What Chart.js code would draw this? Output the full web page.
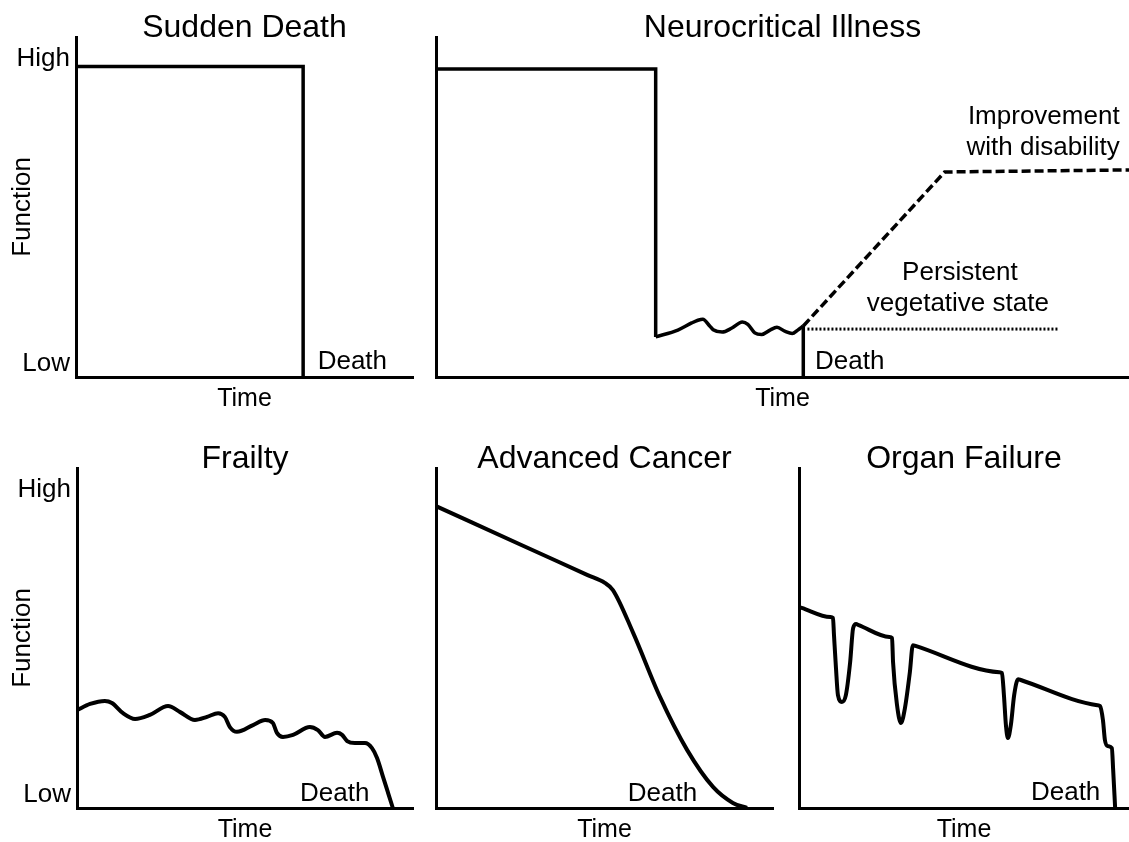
<!DOCTYPE html>
<html>
<head>
<meta charset="utf-8">
<script src="https://cdn.jsdelivr.net/npm/chart.js@4.4.1/dist/chart.umd.min.js"></script>
<style>
html,body{margin:0;padding:0;background:#fff;}
#wrap{position:relative;width:1129px;height:842px;overflow:hidden;background:#fff;}
canvas{position:absolute;}
</style>
</head>
<body>
<div id="wrap">
<canvas id="c1" width="420" height="420" style="left:0px;top:0px;width:420px;height:420px"></canvas>
<canvas id="c2" width="709" height="420" style="left:420px;top:0px;width:709px;height:420px"></canvas>
<canvas id="c3" width="420" height="422" style="left:0px;top:420px;width:420px;height:422px"></canvas>
<canvas id="c4" width="360" height="422" style="left:420px;top:420px;width:360px;height:422px"></canvas>
<canvas id="c5" width="349" height="422" style="left:780px;top:420px;width:349px;height:422px"></canvas>
</div>
<script>
// ---------- DATA (time 0-100, function 0-100) ----------
const yTickValues = [4, 93.7];
const yTickLabels = ['Low', 'High'];
const panelTitles = ['Sudden Death', 'Neurocritical Illness', 'Frailty', 'Advanced Cancer', 'Organ Failure'];
const xAxisLabel = 'Time';
const yAxisLabel = 'Function';

// Sudden Death
const suddenTime = [0, 67.4, 67.4];
const suddenFunction = [91.3, 91.3, 0];

// Neurocritical Illness
const neuroStepTime = [0, 31.7, 31.7];
const neuroStepFunction = [90.6, 90.6, 11.8];
const neuroWaveTime = [31.7, 34.9, 36.9, 37.8, 38.5, 39.5, 40.0, 41.3, 42.7, 44.2, 45.0, 46.0, 47.0, 48.2, 49.2, 50.4, 51.4, 52.2, 53.0];
const neuroWaveFunction = [11.8, 13.8, 15.9, 16.7, 17.0, 15.0, 13.9, 13.2, 14.4, 16.2, 15.5, 13.0, 12.5, 13.8, 14.6, 13.4, 12.8, 13.8, 15.0];
const neuroDeathTime = [53.0, 53.0];
const neuroDeathFunction = [15.0, 0];
const neuroImproveTime = [53.0, 73.4, 100];
const neuroImproveFunction = [15.0, 60.3, 60.9];
const neuroPvsTime = [53.6, 89.8];
const neuroPvsFunction = [14.1, 14.1];

// Frailty
const frailTime = [0, 3.9, 8.3, 10.4, 13.7, 17.3, 21.7, 27.1, 30.7, 35.1, 38.7, 42.0, 44.0, 45.5, 47.6, 52.4, 56.0, 58.3, 59.5, 61.3, 64.3, 69.3, 71.7, 73.8, 77.4, 78.9, 80.4, 82.7, 85.7, 87.8, 89.3, 91.1, 92.6, 94.0];
const frailFunction = [28.8, 30.6, 31.5, 30.9, 27.9, 26.2, 27.4, 30.0, 28.2, 25.9, 26.8, 27.9, 26.8, 23.8, 22.4, 24.4, 25.9, 25.0, 22.1, 20.9, 21.5, 23.8, 22.9, 20.9, 22.1, 21.5, 19.7, 19.1, 19.1, 17.6, 14.7, 9.1, 4.4, 0];

// Advanced Cancer
const cancerTime = [0, 25, 45, 50.1, 52.5, 58.5, 66.5, 74.5, 82.2, 88.1, 92.3];
const cancerFunction = [88.8, 77.5, 68.5, 66.2, 64.1, 51.5, 32.6, 17.1, 6.2, 1.5, 0];

// Organ Failure
const organTime = [0, 0.8, 9.5, 10.3, 10.6, 11.2, 11.8, 13.0, 14.2, 15.5, 16.4, 17.3, 18.1, 27.4, 28.2, 28.5, 29.7, 30.9, 32.1, 33.6, 34.5, 35.3, 60.7, 61.5, 62.1, 62.7, 63.3, 64.2, 65.2, 66.4, 67.2, 90.4, 91.2, 92.1, 92.7, 93.6, 94.8, 95.2, 95.8];
const organFunction = [59.1, 58.85, 56.15, 55.9, 50.9, 41.2, 33.2, 31.2, 33.2, 42.9, 52.9, 54.1, 53.8, 50.3, 50.0, 42.9, 30.3, 25.0, 29.4, 40.0, 47.9, 47.66, 39.94, 39.7, 33.2, 24.4, 20.6, 24.4, 33.2, 37.9, 37.65, 30.25, 30.0, 25.9, 20.0, 18.2, 17.6, 11.2, 0];

// Text labels [text, time, function]
const suddenNotes = [['Death', 82.0, 4.6]];
const neuroNotes = [['Improvement', 87.7, 76.5], ['with disability', 87.6, 67.5], ['Persistent', 75.6, 30.6], ['vegetative state', 75.3, 21.5], ['Death', 59.7, 4.4]];
const frailNotes = [['Death', 76.7, 4.3]];
const cancerNotes = [['Death', 67.2, 4.3]];
const organNotes = [['Death', 80.8, 4.4]];

// ---------- RENDERING ----------
const FONT = '"Liberation Sans", Arial, Helvetica, sans-serif';
Chart.defaults.font.family = FONT;
Chart.defaults.color = '#000';

function pts(xs, ys) { return xs.map((x, i) => ({x: x, y: ys[i]})); }
function ds(xs, ys, extra) {
  return Object.assign({
    data: pts(xs, ys), borderColor: '#000', borderWidth: 3.5, pointRadius: 0,
    fill: false, clip: false, tension: 0, borderJoinStyle: 'miter', borderCapStyle: 'butt'
  }, extra || {});
}
const smooth = {cubicInterpolationMode: 'monotone', borderJoinStyle: 'round'};
const smoothThick = Object.assign({borderWidth: 4}, smooth);

function textPlugin(notes) {
  return {
    id: 'notes',
    afterDatasetsDraw(chart) {
      const {ctx, scales} = chart;
      ctx.save();
      ctx.fillStyle = '#000';
      ctx.font = '26px ' + FONT;
      ctx.textAlign = 'center';
      ctx.textBaseline = 'middle';
      notes.forEach(n => ctx.fillText(n[0], scales.x.getPixelForValue(n[1]), scales.y.getPixelForValue(n[2])));
      ctx.restore();
    }
  };
}

function panel(id, c) {
  return new Chart(document.getElementById(id), {
    type: 'line',
    data: {datasets: c.datasets},
    options: {
      responsive: false, animation: false, events: [],
      layout: {padding: {left: 0, right: c.padRight, top: 0, bottom: 0}},
      plugins: {
        legend: {display: false}, tooltip: {enabled: false},
        title: {display: true, text: c.title, fullSize: false, color: '#000',
          font: {size: 32, family: FONT, weight: 'normal', lineHeight: '18px'},
          padding: {top: c.titleTop, bottom: 0}}
      },
      scales: {
        x: {
          type: 'linear', min: 0, max: 100,
          grid: {display: false, drawTicks: false},
          border: {display: true, color: '#000', width: 3},
          ticks: {display: false},
          title: {display: true, text: xAxisLabel, color: '#000',
            font: {size: 25, family: FONT, lineHeight: '24px'}, padding: {top: 0, bottom: c.timePad}},
          afterFit(s) { s.height = c.xH; }
        },
        y: {
          type: 'linear', min: 0, max: 100,
          grid: {display: false, drawTicks: false},
          border: {display: true, color: '#000', width: 3},
          ticks: {display: c.labels, padding: 6, color: '#000', font: {size: 26, family: FONT},
            autoSkip: false, callback: (v, i) => yTickLabels[i]},
          afterBuildTicks(s) { s.ticks = yTickValues.map(v => ({value: v})); },
          title: {display: c.labels, text: yAxisLabel, color: '#000',
            font: {size: 26, family: FONT, lineHeight: '30px'}, padding: {top: 8, bottom: 0}},
          afterFit(s) { s.width = c.yW; }
        }
      }
    },
    plugins: [textPlugin(c.notes)]
  });
}

panel('c1', {title: panelTitles[0], padRight: 7, yW: 76, xH: 43, titleTop: 19, timePad: 9, labels: true,
  notes: suddenNotes, datasets: [ds(suddenTime, suddenFunction)]});

panel('c2', {title: panelTitles[1], padRight: 0, yW: 16, xH: 43, titleTop: 19, timePad: 9, labels: false,
  notes: neuroNotes, datasets: [
    ds(neuroStepTime, neuroStepFunction),
    ds(neuroWaveTime, neuroWaveFunction, smooth),
    ds(neuroDeathTime, neuroDeathFunction),
    ds(neuroImproveTime, neuroImproveFunction, {borderDash: [9, 4]}),
    ds(neuroPvsTime, neuroPvsFunction, {borderDash: [2, 2], borderWidth: 3})
  ]});

panel('c3', {title: panelTitles[2], padRight: 7, yW: 77, xH: 34, titleTop: 30, timePad: 0, labels: true,
  notes: frailNotes, datasets: [ds(frailTime, frailFunction, smoothThick)]});

panel('c4', {title: panelTitles[3], padRight: 7, yW: 16, xH: 34, titleTop: 30, timePad: 0, labels: false,
  notes: cancerNotes, datasets: [ds(cancerTime, cancerFunction, smoothThick)]});

panel('c5', {title: panelTitles[4], padRight: 0, yW: 19, xH: 34, titleTop: 30, timePad: 0, labels: false,
  notes: organNotes, datasets: [ds(organTime, organFunction, smoothThick)]});
</script>
</body>
</html>
